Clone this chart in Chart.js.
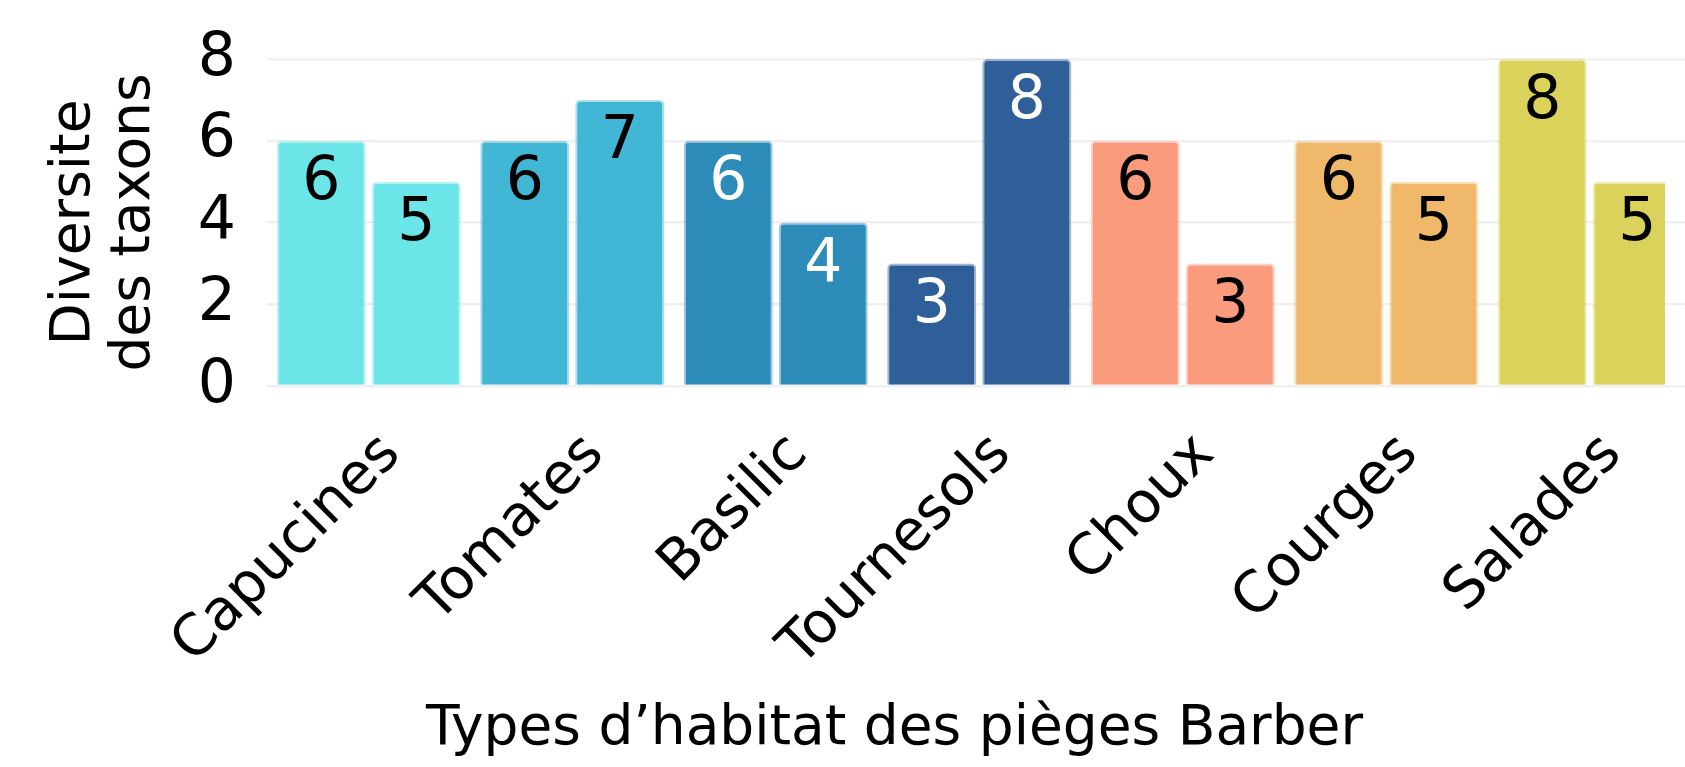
<!DOCTYPE html>
<html lang="fr">
<head>
<meta charset="utf-8">
<title>Diversité des taxons</title>
<script src="https://cdn.jsdelivr.net/npm/chart.js@4.4.1/dist/chart.umd.min.js"></script>
<style>
    html, body { margin: 0; padding: 0; background: #fff; overflow: hidden; }
    #wrap { width: 1685px; height: 767px; overflow: hidden; }
    canvas { display: block; }
</style>
</head>
<body>
<div id="wrap">
    <canvas id="taxonsChart" width="1789" height="767" style="width:1789px;height:767px"></canvas>
</div>
<script>
// Categories (habitat types) and the two trap series
const habitats = ['Capucines', 'Tomates', 'Basilic', 'Tournesols', 'Choux', 'Courges', 'Salades'];
const serieA = [6, 6, 6, 3, 6, 6, 8];
const serieB = [5, 7, 4, 8, 3, 5, 5];
const yTicks = [0, 2, 4, 6, 8];

// One colour per habitat, and the colour of the value written inside the bar
const habitatColors = ['#6ce5e8', '#41b7d5', '#2d8bb9', '#2e5f98', '#fa9b7e', '#f0b86a', '#dad25a'];
const labelColors = ['#000', '#000', '#fff', '#fff', '#000', '#000', '#000'];

const FONT = "'DejaVu Sans'";
Chart.defaults.font.family = FONT;
Chart.defaults.color = '#000';

// Transparent-ish edge so bars get the soft halo of the original
function fade(hex, a) {
    const n = parseInt(hex.slice(1), 16);
    return `rgba(${(n >> 16) & 255}, ${(n >> 8) & 255}, ${n & 255}, ${a})`;
}

// Draw each value near the top, inside its bar
const valueLabels = {
    id: 'valueLabels',
    afterDatasetsDraw(chart) {
        const ctx = chart.ctx;
        ctx.save();
        ctx.font = `60px ${FONT}`;
        ctx.textAlign = 'center';
        ctx.textBaseline = 'middle';
        chart.data.datasets.forEach((ds, i) => {
            chart.getDatasetMeta(i).data.forEach((bar, j) => {
                ctx.fillStyle = labelColors[j];
                ctx.fillText(ds.data[j], bar.x, bar.y + 43);
            });
        });
        ctx.restore();
    }
};

function makeDataset(values) {
    return {
        data: values,
        backgroundColor: habitatColors,
        borderColor: habitatColors.map(c => fade(c, 0.45)),
        borderWidth: 2,
        borderRadius: 5,
        categoryPercentage: 0.934,
        barPercentage: 0.937,
        clip: { left: false, top: false, right: -26.5, bottom: false }
    };
}

const ctx = document.getElementById('taxonsChart').getContext('2d');
const taxonsChart = new Chart(ctx, {
    type: 'bar',
    data: {
        labels: habitats,
        datasets: [makeDataset(serieA), makeDataset(serieB)]
    },
    plugins: [valueLabels],
    options: {
        responsive: false,
        animation: false,
        layout: { padding: { top: 59, left: 0, right: 0, bottom: 0 } },
        plugins: {
            legend: { display: false },
            tooltip: { enabled: false },
            title: {
                display: true,
                position: 'bottom',
                text: 'Types d’habitat des pièges Barber',
                font: { size: 55, weight: 'normal' },
                color: '#000',
                padding: { top: 0, bottom: 4 }
            }
        },
        scales: {
            x: {
                grid: { display: false, drawTicks: false },
                border: { display: false },
                ticks: {
                    autoSkip: false,
                    minRotation: 45,
                    maxRotation: 45,
                    padding: 35,
                    labelOffset: 23,
                    font: { size: 57 }
                },
                afterFit(scale) {
                    scale.height = 311;
                    scale.paddingLeft = 0;
                    scale.paddingRight = 97.5;
                }
            },
            y: {
                min: 0,
                max: 8,
                grid: { color: '#f0f0f0', lineWidth: 2.5, drawTicks: false },
                border: { display: false },
                ticks: {
                    stepSize: 1,
                    padding: 31,
                    font: { size: 60 },
                    callback: v => (yTicks.includes(v) ? v : '')
                },
                title: {
                    display: true,
                    text: ['Diversite', 'des taxons'],
                    font: { size: 55, lineHeight: 1.1 },
                    color: '#000',
                    padding: { top: 44, bottom: 0 }
                },
                afterFit(scale) {
                    scale.width = 267;
                    scale.paddingTop = 0;
                    scale.paddingBottom = 0;
                }
            }
        }
    }
});
</script>
</body>
</html>
